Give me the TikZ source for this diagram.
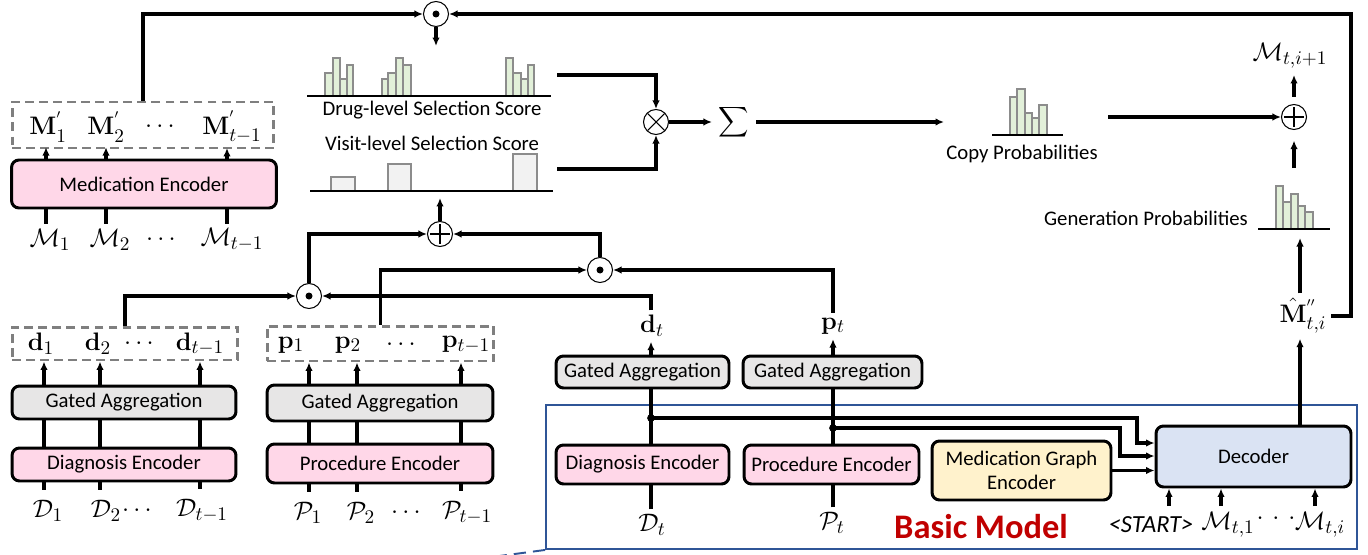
\documentclass[tikz,border=0pt]{standalone}
\usepackage{amsmath}
\usepackage[no-math]{fontspec}
\setmainfont{Carlito}
\usetikzlibrary{arrows.meta}

\definecolor{encpink}{HTML}{FFD7E8}
\definecolor{gagray}{HTML}{E7E6E6}
\definecolor{mgyellow}{HTML}{FFF2CC}
\definecolor{decblue}{HTML}{DAE3F3}
\definecolor{bargreen}{HTML}{E2F0D9}
\definecolor{barlight}{HTML}{F2F2F2}
\definecolor{baredge}{HTML}{8C8C8C}
\definecolor{dashgray}{HTML}{7F7F7F}
\definecolor{basicblue}{HTML}{2F5597}
\definecolor{modelred}{HTML}{C00000}

\begin{document}
\begin{tikzpicture}[x=0.02cm,y=-0.02cm,>={Latex[length=1.7mm,width=1.5mm]},line width=1.75pt]
        \tikzstyle{block}=[draw,rounded corners=1.5mm,line width=1.7pt,inner sep=0pt,align=center,font=\fontsize{11.8}{14}\selectfont]
        \tikzstyle{encoder}=[block,fill=encpink]
        \tikzstyle{gate}=[block,fill=gagray]
        \tikzstyle{group}=[draw=dashgray,dash pattern=on 5pt off 3pt,line width=1.7pt,inner sep=0pt]
        \tikzstyle{var}=[inner sep=2pt,font=\fontsize{15}{18}\selectfont]
        \tikzstyle{txt}=[inner sep=1pt,font=\fontsize{11.8}{14}\selectfont]
        \tikzstyle{op}=[circle,draw,line width=0.6pt,minimum size=0.5cm,inner sep=0pt,fill=white]
        \tikzstyle{dotop}=[op,path picture={\fill[black] (path picture bounding box.center) circle (0.07cm);}]
        \tikzstyle{plusop}=[op,path picture={\draw[black,line width=0.6pt] (path picture bounding box.center) ++(-0.2cm,0) -- ++(0.4cm,0) (path picture bounding box.center) ++(0,-0.2cm) -- ++(0,0.4cm);}]
        \tikzstyle{timesop}=[op,path picture={\draw[black,line width=0.6pt] (path picture bounding box.center) ++(-0.17cm,-0.17cm) -- ++(0.34cm,0.34cm) (path picture bounding box.center) ++(-0.17cm,0.17cm) -- ++(0.34cm,-0.34cm);}]
        \tikzstyle{greenbar}=[draw=baredge,fill=bargreen,line width=0.6pt]
        \tikzstyle{graybar}=[draw=baredge,fill=barlight,line width=0.6pt]
        \tikzstyle{axis}=[line width=0.8pt]

        \useasboundingbox (0,0) rectangle (1368,554);

        % history: medications
        \node [group,minimum width=5.24cm,minimum height=0.92cm] (mbox) at (143,125) {};
        \node [encoder,minimum width=5.3cm,minimum height=0.96cm] (medenc) at (144,184) {Medication Encoder};
        \node [var] (mp1) at (48,127) {$\mathbf{M}^{'}_{1}$};
        \node [var] (mp2) at (106,127) {$\mathbf{M}^{'}_{2}$};
        \node [var] (mpdots) at (162,127) {$\cdots$};
        \node [var] (mp3) at (232,127) {$\mathbf{M}^{'}_{t-1}$};
        \node [var] (m1) at (50,240) {$\mathcal{M}_1$};
        \node [var] (m2) at (110,240) {$\mathcal{M}_2$};
        \node [var] (mdots) at (163,240) {$\cdots$};
        \node [var] (m3) at (232,240) {$\mathcal{M}_{t-1}$};
        \foreach \c/\x in {1/46,2/106,3/227}
            \coordinate (mcol\c) at (\x,184);

        % history: diagnoses
        \node [group,minimum width=4.52cm,minimum height=0.66cm] (dbox) at (125,343.5) {};
        \node [gate,minimum width=4.48cm,minimum height=0.66cm] (dga) at (124,402.5) {Gated Aggregation};
        \node [encoder,minimum width=4.48cm,minimum height=0.66cm] (denc) at (124,464.5) {Diagnosis Encoder};
        \node [var] (d1) at (41,344) {$\mathbf{d}_1$};
        \node [var] (d2) at (98,344) {$\mathbf{d}_2$};
        \node [var] (ddots) at (141,344) {$\cdots$};
        \node [var] (d3) at (200,344) {$\mathbf{d}_{t-1}$};
        \node [var] (D1) at (48,511) {$\mathcal{D}_1$};
        \node [var] (D2) at (106,511) {$\mathcal{D}_2$};
        \node [var] (Ddots) at (139,511) {$\cdots$};
        \node [var] (D3) at (202,511) {$\mathcal{D}_{t-1}$};
        \foreach \c/\x in {1/44,2/100,3/200}
            \coordinate (dcol\c) at (\x,430);

        % history: procedures
        \node [group,minimum width=4.54cm,minimum height=0.7cm] (pbox) at (380.5,343.5) {};
        \node [gate,minimum width=4.52cm,minimum height=0.72cm] (pga) at (380,403) {Gated Aggregation};
        \node [encoder,minimum width=4.52cm,minimum height=0.78cm] (penc) at (380,463.5) {Procedure Encoder};
        \node [var] (p1) at (291,345) {$\mathbf{p}_1$};
        \node [var] (p2) at (348,345) {$\mathbf{p}_2$};
        \node [var] (pdots) at (403,345) {$\cdots$};
        \node [var] (p3) at (466,345) {$\mathbf{p}_{t-1}$};
        \node [var] (P1) at (308,513) {$\mathcal{P}_1$};
        \node [var] (P2) at (361,513) {$\mathcal{P}_2$};
        \node [var] (Pdots) at (408,513) {$\cdots$};
        \node [var] (P3) at (467,513) {$\mathcal{P}_{t-1}$};
        \foreach \c/\x in {1/309,2/357,3/461}
            \coordinate (pcol\c) at (\x,430);

        % operators
        \node [dotop] (odtop) at (436,14) {};
        \node [dotop] (odl) at (309,296) {};
        \node [dotop] (odr) at (600,270) {};
        \node [plusop] (oplusv) at (440,234) {};
        \node [timesop] (otimes) at (656,122) {};
        \node [plusop] (oplus) at (1294,117) {};
        \node [inner sep=3pt,font=\fontsize{13}{15}\selectfont] (sigma) at (734,122) {$\displaystyle\sum$};

        % selection scores
        \foreach \a/\b/\t in {325/333/73,333/340/58,340/347/79,347/353/65,382/388/79,388/396/73,396/403/58,403/411/65,506/513/58,513/521/73,521/528/79,528/534/65}
            \draw [greenbar] (\a,96) rectangle (\b,\t);
        \draw [axis] (307,96) -- (551,96);
        \node [txt] (druglbl) at (432,110) {Drug-level Selection Score};
        \node [txt] (visitlbl) at (432,143) {Visit-level Selection Score};
        \foreach \a/\b/\t in {331/355/177,388/411/164,513/537/154}
            \draw [graybar] (\a,191) rectangle (\b,\t);
        \draw [axis] (310,191) -- (553,191);
        \coordinate (drugin) at (436,46);
        \coordinate (drugout) at (557,75);
        \coordinate (visitin) at (440,198);
        \coordinate (visitout) at (557,169);

        % copy / generation probabilities
        \foreach \a/\b/\t in {1010/1017/97,1017/1025/89,1025/1032/113,1032/1039/118,1039/1047/105}
            \draw [greenbar] (\a,135) rectangle (\b,\t);
        \draw [axis] (992,135) -- (1063,135);
        \node [txt] (copylbl) at (1022,154) {Copy Probabilities};
        \foreach \a/\b/\t in {1276/1283/186,1283/1291/202,1291/1298/194,1298/1305/206,1305/1313/212}
            \draw [greenbar] (\a,229) rectangle (\b,\t);
        \draw [axis] (1258,229) -- (1330,229);
        \node [txt] (genlbl) at (1146,218) {Generation Probabilities};
        \coordinate (copyin) at (944,122);
        \coordinate (copyout) at (1108,117);
        \coordinate (genin) at (1300,238);
        \coordinate (genout) at (1294,168);
        \coordinate (nextin) at (1294,75);
        \node [var] (mnext) at (1290,56) {$\mathcal{M}_{t,i+1}$};
        \node [var] (mhat) at (1303,316) {$\hat{\mathbf{M}}^{''}_{t,i}$};
        \coordinate (loopR) at (1351,14);

        % basic model
        \node [draw=basicblue,line width=1.1pt,minimum width=16.22cm,minimum height=2.88cm,inner sep=0pt] (basic) at (951.5,477) {};
        \node [font=\fontsize{19.6}{22}\selectfont\bfseries,text=modelred] (basiclbl) at (981,527) {Basic Model};
        \node [encoder,minimum width=3.46cm,minimum height=0.78cm] (dencb) at (642.5,464.5) {Diagnosis Encoder};
        \node [encoder,minimum width=3.5cm,minimum height=0.78cm] (pencb) at (831.5,464.5) {Procedure Encoder};
        \node [block,fill=mgyellow,minimum width=3.58cm,minimum height=1.18cm] (mge) at (1021.5,470.5) {Medication Graph\\Encoder};
        \node [block,fill=decblue,minimum width=3.9cm,minimum height=1.22cm] (dec) at (1253.5,456.5) {Decoder};
        \node [gate,minimum width=3.46cm,minimum height=0.64cm] (dgat) at (642.5,372) {Gated Aggregation};
        \node [gate,minimum width=3.58cm,minimum height=0.64cm] (pgat) at (832.5,372) {Gated Aggregation};
        \node [var] (dt) at (652,326) {$\mathbf{d}_t$};
        \node [var] (pt) at (833,326) {$\mathbf{p}_t$};
        \node [var] (Dt) at (652,525) {$\mathcal{D}_t$};
        \node [var] (Pt) at (832,523) {$\mathcal{P}_t$};
        \node [txt,font=\fontsize{14}{16}\selectfont\itshape] (start) at (1151,525) {<START>};
        \node [var] (mt1) at (1228,525) {$\mathcal{M}_{t,1}$};
        \node [var] (mtdots) at (1276,519) {$\cdot$\hspace{5pt}$\cdot$\hspace{5pt}$\cdot$};
        \node [var] (mti) at (1320,525) {$\mathcal{M}_{t,i}$};
        \coordinate (dj) at (651,418);
        \coordinate (pj) at (833,428);
        \coordinate (dturn) at (1137,443);
        \coordinate (pturn) at (1120,456);
        \foreach \c/\x in {1/1169,2/1221,3/1315}
            \coordinate (din\c) at (\x,506);

        % history connectors
        \foreach \c in {1,2,3} {
            \draw [->] (medenc.north -| mcol\c) -- (mp\c.south -| mcol\c);
            \draw (medenc.south -| mcol\c) -- (m\c.north -| mcol\c);
            \draw [->] (dga.north -| dcol\c) -- (dbox.south -| dcol\c);
            \draw (denc.north -| dcol\c) -- (dga.south -| dcol\c);
            \draw [shorten >=3pt] (denc.south -| dcol\c) -- (D\c.north -| dcol\c);
            \draw [->] (pga.north -| pcol\c) -- (pbox.south -| pcol\c);
            \draw (penc.north -| pcol\c) -- (pga.south -| pcol\c);
            \draw [shorten >=3pt] (penc.south -| pcol\c) -- (P\c.north -| pcol\c);
        }

        % attention path
        \draw [->] (mbox.north) |- (odtop.west);
        \draw [->] (mhat.east) -| (loopR) -- (odtop.east);
        \draw [->] (odtop.south) -- (drugin);
        \draw [->] (drugout) -| (otimes.north);
        \draw [->] (visitout) -| (otimes.south);
        \draw [->] (otimes.east) -- (otimes.east -| sigma.west);
        \draw [->] (sigma.east |- copyin) -- (copyin);
        \draw [->] (copyout) -- (oplus.west);
        \draw [->,shorten <=4pt] (oplus.north) -- (nextin);
        \draw [->,shorten >=6pt] (genout) -- (oplus.south);
        \draw [->] (mhat.north -| genin) -- (genin);
        \draw [->] (dec.north -| genin) -- (mhat.south -| genin);
        \draw [->] (dbox.north) |- (odl.west);
        \draw [->] (pbox.north) |- (odr.west);
        \draw [->] (dt.north -| dj) |- (odl.east);
        \draw [->] (pt.north) |- (odr.east);
        \draw [->] (odl.north) |- (oplusv.west);
        \draw [->] (odr.north) |- (oplusv.east);
        \draw [->] (oplusv.north) -- (visitin);

        % basic model connectors
        \draw (Dt.north -| dj) -- (dencb.south -| dj);
        \draw (dencb.north -| dj) -- (dgat.south -| dj);
        \draw [->] (dgat.north -| dj) -- (dt.south -| dj);
        \draw (Pt.north -| pj) -- (pencb.south -| pj);
        \draw (pencb.north -| pj) -- (pgat.south -| pj);
        \draw [->] (pgat.north -| pj) -- (pt.south -| pj);
        \fill (dj) circle (2.2pt);
        \fill (pj) circle (2.2pt);
        \draw [->] (dj) -| (dturn) -- (dturn -| dec.west);
        \draw [->] (pj) -| (pturn) -- (pturn -| dec.west);
        \draw [->] (mge.east) -- (mge.east -| dec.west);
        \foreach \c in {1,2,3}
            \draw [->] (din\c) -- (din\c |- dec.south);
        \draw [basicblue,line width=1.1pt,dash pattern=on 7pt off 4pt] (basic.south west) -- (492,557);
\end{tikzpicture}
\end{document}
